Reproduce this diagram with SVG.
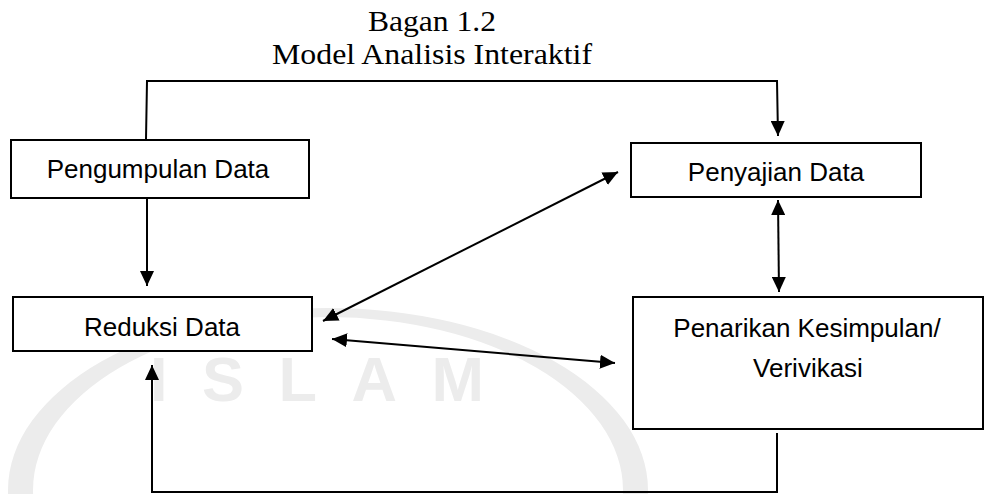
<svg xmlns="http://www.w3.org/2000/svg" width="985" height="494" viewBox="0 0 985 494">
  <style>
    .box { fill: #ffffff; stroke: #000000; stroke-width: 2; }
    .lbl { font-family: "Liberation Sans", Arial, sans-serif; font-size: 26px; fill: #000000; text-anchor: middle; }
    .title { font-family: "Liberation Serif", "Times New Roman", serif; font-size: 29px; fill: #000000; text-anchor: middle; }
    .conn { fill: none; stroke: #000000; stroke-width: 2; }
    .wm { fill: #ececec; fill-rule: evenodd; stroke: none; }
    .wmt { font-family: "Liberation Sans", Arial, sans-serif; font-weight: bold; font-size: 63px; fill: #ececec; }
  </style>
  <defs>
    <marker id="ah" viewBox="0 0 15 14" refX="15" refY="7" markerWidth="15" markerHeight="14" markerUnits="userSpaceOnUse" orient="auto-start-reverse">
      <path d="M0,0 L15,7 L0,14 Z" fill="#000000"/>
    </marker>
  </defs>

  <g id="watermark">
    <path class="wm" d="M8,490 A320,182 0 0 1 648,490 A320,182 0 0 1 8,490 Z M33,490 A295,173 0 0 0 623,490 A295,173 0 0 0 33,490 Z"/>
    <text class="wmt" x="150" y="401" textLength="334" lengthAdjust="spacing">ISLAM</text>
  </g>

  <g id="title">
    <text class="title" x="432" y="31" textLength="128" lengthAdjust="spacingAndGlyphs">Bagan 1.2</text>
    <text class="title" x="432" y="64" textLength="320" lengthAdjust="spacingAndGlyphs">Model Analisis Interaktif</text>
  </g>

  <g id="connectors">
    <path class="conn" d="M146,139 L147,81 L777,81 L778,136" marker-end="url(#ah)"/>
    <path class="conn" d="M147,199 L147,286" marker-end="url(#ah)"/>
    <path class="conn" d="M323,321 L618,172" marker-start="url(#ah)" marker-end="url(#ah)"/>
    <path class="conn" d="M332,339 L615,363" marker-start="url(#ah)" marker-end="url(#ah)"/>
    <path class="conn" d="M778,200 L779,292" marker-start="url(#ah)" marker-end="url(#ah)"/>
    <path class="conn" d="M777,433 L777,492 L152,492 L152,365" marker-end="url(#ah)"/>
  </g>

  <g id="pengumpulan">
    <rect class="box" x="11" y="140" width="298" height="58"/>
    <text class="lbl" x="158" y="178">Pengumpulan Data</text>
  </g>

  <g id="penyajian">
    <rect class="box" x="631" y="143" width="290" height="54"/>
    <text class="lbl" x="776" y="181">Penyajian Data</text>
  </g>

  <g id="reduksi">
    <rect class="box" x="13" y="297" width="299" height="54"/>
    <text class="lbl" x="162" y="336">Reduksi Data</text>
  </g>

  <g id="penarikan">
    <rect class="box" x="633" y="297" width="350" height="132"/>
    <text class="lbl" x="807" y="337">Penarikan Kesimpulan/</text>
    <text class="lbl" x="808" y="377">Verivikasi</text>
  </g>
</svg>
